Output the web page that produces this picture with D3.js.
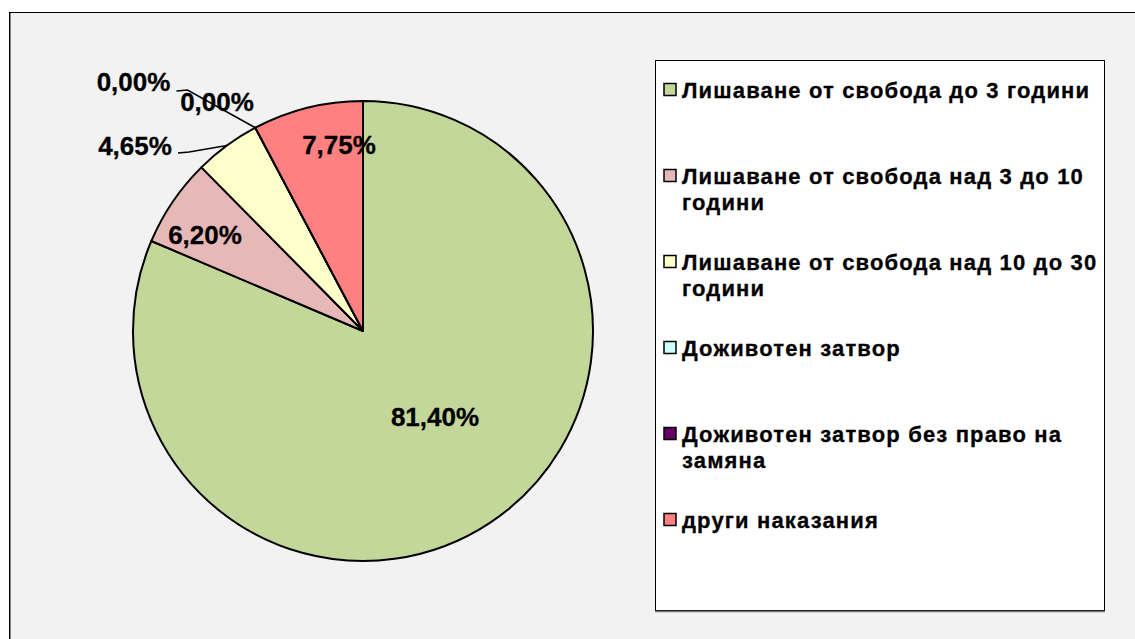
<!DOCTYPE html>
<html><head><meta charset="utf-8">
<script src="https://cdn.jsdelivr.net/npm/d3@7"></script>
<style>body{margin:0;background:#fff;} svg{display:block;}</style>
</head><body>
<svg id="c" width="1135" height="639"></svg>
<script>
const categories = ["Лишаване от свобода до 3 години","Лишаване от свобода над 3 до 10 години","Лишаване от свобода над 10 до 30 години","Доживотен затвор","Доживотен затвор без право на замяна","други наказания"];
const values = [81.40, 6.20, 4.65, 0.00, 0.00, 7.75];
const labels = ["81,40%","6,20%","4,65%","0,00%","0,00%","7,75%"];
const colors = ["#C4D79B","#E6B9B8","#FFFFCC","#CCFFFF","#660066","#FF8080"];
const legendLines = [["Лишаване от свобода до 3 години"],["Лишаване от свобода над 3 до 10","години"],["Лишаване от свобода над 10 до 30","години"],["Доживотен затвор"],["Доживотен затвор без право на","замяна"],["други наказания"]];

const svg = d3.select("#c");
const font = "'Liberation Sans', Arial, sans-serif";
svg.append("rect").attr("width",1135).attr("height",639).attr("fill","#ffffff");
svg.append("rect").attr("x",9.5).attr("y",12.5).attr("width",1300).attr("height",700).attr("fill","#F2F2F2").attr("stroke","#000").attr("stroke-width",1);
svg.append("line").attr("x1",10.5).attr("x2",10.5).attr("y1",13).attr("y2",639).attr("stroke","#888").attr("stroke-width",1);

const cx = 363, cy = 331, r = 230;
const pie = d3.pie().sort(null).value(d=>d)(values);
const arc = d3.arc().innerRadius(0).outerRadius(r);
const g = svg.append("g").attr("transform",`translate(${cx},${cy})`);
g.selectAll("path").data(pie).join("path").attr("d",arc).attr("fill",(d,i)=>colors[i]).attr("stroke","#000").attr("stroke-width",2).attr("stroke-linejoin","round");

// labels
const insidePos = {0:[435-cx,417-cy],1:[205-cx,235-cy],5:[339-cx,145-cy]};
const outsidePos = {2:[135,146],3:[133.5,82],4:[217,102]};
const lblFs = 26;
pie.forEach((d,i)=>{
  let x,y;
  if (insidePos[i]) { [x,y] = [cx+insidePos[i][0], cy+insidePos[i][1]]; }
  else { [x,y] = outsidePos[i]; }
  if (i===2 || i===3) {
    const a = (d.startAngle+d.endAngle)/2;
    const px = cx + r*Math.sin(a), py = cy - r*Math.cos(a);
    const sx = x + 43, sy = y + (i===2?7:9);
    svg.append("polyline").attr("points",`${sx},${sy} ${sx+11},${sy-1} ${px},${py}`).attr("fill","none").attr("stroke","#000").attr("stroke-width",1.5);
  }
  svg.append("text").attr("x",x).attr("y",y).attr("text-anchor","middle").attr("dominant-baseline","central")
    .attr("font-family",font).attr("font-weight","bold").attr("font-size",lblFs).attr("fill","#000")
    .attr("stroke","#000").attr("stroke-width",0.3).text(labels[i]);
});

// legend
svg.append("rect").attr("x",655.5).attr("y",60.5).attr("width",449).attr("height",550).attr("fill","#fff").attr("stroke","#000").attr("stroke-width",1);
svg.append("line").attr("x1",655).attr("x2",1105).attr("y1",611.5).attr("y2",611.5).attr("stroke","#777").attr("stroke-width",1.5);
const ly = d3.scaleLinear().domain([0,5]).range([90,520]);
categories.forEach((c,i)=>{
  const y = ly(i);
  svg.append("rect").attr("x",664).attr("y",y-6.5).attr("width",12).attr("height",12).attr("fill",colors[i]).attr("stroke","#000").attr("stroke-width",1.5);
  const t = svg.append("text").attr("x",682).attr("y",y+7.5).attr("font-family",font).attr("font-weight","bold").attr("font-size",22).attr("letter-spacing",1.15).attr("fill","#000")
    .attr("stroke","#000").attr("stroke-width",0.3);
  legendLines[i].forEach((l,j)=>{
    t.append("tspan").attr("x",682).attr("dy",j===0?0:26).text(l);
  });
});
</script>
</body></html>
